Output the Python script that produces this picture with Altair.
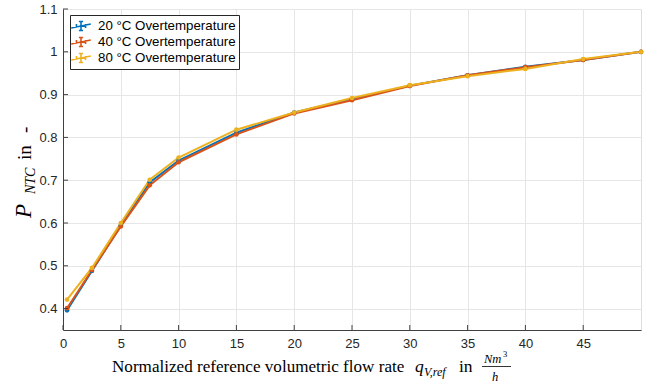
import altair as alt
import pandas as pd

# ---- data ----
x_vals = [0.35, 2.5, 5, 7.5, 10, 15, 20, 25, 30, 35, 40, 45, 50]
y_20 = [0.396, 0.488, 0.594, 0.695, 0.746, 0.811, 0.858, 0.889, 0.921, 0.945, 0.965, 0.981, 1.0]
y_40 = [0.401, 0.490, 0.592, 0.688, 0.742, 0.807, 0.856, 0.887, 0.920, 0.945, 0.964, 0.981, 1.0]
y_80 = [0.421, 0.495, 0.600, 0.701, 0.753, 0.818, 0.858, 0.892, 0.922, 0.943, 0.960, 0.983, 1.0]
series = ["20 °C Overtemperature", "40 °C Overtemperature", "80 °C Overtemperature"]
colors = ["#0072BD", "#D95319", "#EDB120"]
x_ticks = [0, 5, 10, 15, 20, 25, 30, 35, 40, 45]
y_ticks = [0.4, 0.5, 0.6, 0.7, 0.8, 0.9, 1.0, 1.1]

rows = []
for name, ys in zip(series, [y_20, y_40, y_80]):
    for xv, yv in zip(x_vals, ys):
        rows.append({"x": xv, "y": yv, "series": name})
df = pd.DataFrame(rows)

W, H = 578, 321
PL, PT = 63, 9
SANS = "Liberation Sans"
SERIF = "Liberation Serif"
AX = "#404040"

xs = alt.Scale(domain=[0, 50], nice=False, zero=False)
ys = alt.Scale(domain=[0.35, 1.1], nice=False, zero=False)

legend = alt.Legend(
    title=None, orient="none", legendX=7, legendY=6,
    symbolType="M-1.4,0.28L1.4,-0.28M0,-0.65V0.65M-0.3,-0.65H0.3M-0.3,0.65H0.3M-0.65,-0.28V0.28M0.65,-0.28V0.28",
    symbolSize=196, symbolStrokeWidth=1.6, labelFont=SANS, labelFontSize=13.3,
    labelColor="#000000", labelOffset=9, padding=3, rowPadding=0,
    fillColor="white", strokeColor="#262626",
)
color = alt.Color("series:N", scale=alt.Scale(domain=series, range=colors), legend=legend)

base = alt.Chart(df)
lines = base.mark_line(strokeWidth=2).encode(
    x=alt.X("x:Q", scale=xs, axis=alt.Axis(
        values=x_ticks, title=None, grid=True, gridColor="#e6e6e6", tickSize=0,
        labelFont=SANS, labelFontSize=13, labelColor="#262626", labelPadding=7,
        domainColor=AX, labelFlush=False)),
    y=alt.Y("y:Q", scale=ys, axis=alt.Axis(
        values=y_ticks, title=None, grid=True, gridColor="#e6e6e6", tickSize=0,
        format="~g", labelFont=SANS, labelFontSize=13, labelColor="#262626",
        labelPadding=6, domainColor=AX, labelFlush=False)),
    color=color,
)
points = base.mark_point(filled=True, size=22, opacity=1).encode(
    x=alt.X("x:Q", scale=xs), y=alt.Y("y:Q", scale=ys), color=color,
)

# inward ticks
xt = alt.Chart(pd.DataFrame({"t": x_ticks})).mark_rule(color=AX, strokeWidth=1).encode(
    x=alt.X("t:Q", scale=xs), y=alt.value(H), y2=alt.value(H - 5))
yt = alt.Chart(pd.DataFrame({"t": y_ticks})).mark_rule(color=AX, strokeWidth=1).encode(
    y=alt.Y("t:Q", scale=ys), x=alt.value(0), x2=alt.value(5))

one = pd.DataFrame({"a": [0]})


def txt(s, sx, sy, size, italic=False, angle=0):
    kw = dict(align="left", baseline="alphabetic", font=SERIF, fontSize=size,
              color="#000000")
    if italic:
        kw["fontStyle"] = "italic"
    if angle:
        kw["angle"] = angle
    return alt.Chart(one).mark_text(**kw).encode(
        x=alt.value(sx - PL), y=alt.value(sy - PT), text=alt.value(s))


annots = [
    txt("Normalized reference volumetric flow rate", 112, 372, 17.1),
    txt("q", 415, 372, 17.5, True),
    txt("V,ref", 424, 376, 12, True),
    txt("in", 459, 372, 17.5),
    txt("Nm", 484, 363, 12.5, True),
    txt("3", 503, 357, 8.5),
    txt("h", 492, 381, 12.5, True),
    txt("P", 31, 218, 23, True, 270),
    txt("NTC", 35, 194, 14, True, 270),
    txt("in", 31, 160, 19, False, 270),
    txt("-", 31, 133, 19, False, 270),
]
frac = alt.Chart(one).mark_rule(color="#000000", strokeWidth=0.8).encode(
    x=alt.value(482 - PL), x2=alt.value(511 - PL), y=alt.value(366.5 - PT))

chart = alt.layer(lines, points, xt, yt, frac, *annots).properties(
    width=W, height=H,
    autosize=alt.AutoSizeParams(type="none"),
    padding={"left": PL, "top": PT, "right": 651 - PL - W, "bottom": 385 - PT - H},
).configure_view(stroke=None).configure(background="white")

chart.save("out.html", embed_options={"renderer": "svg", "actions": False})
